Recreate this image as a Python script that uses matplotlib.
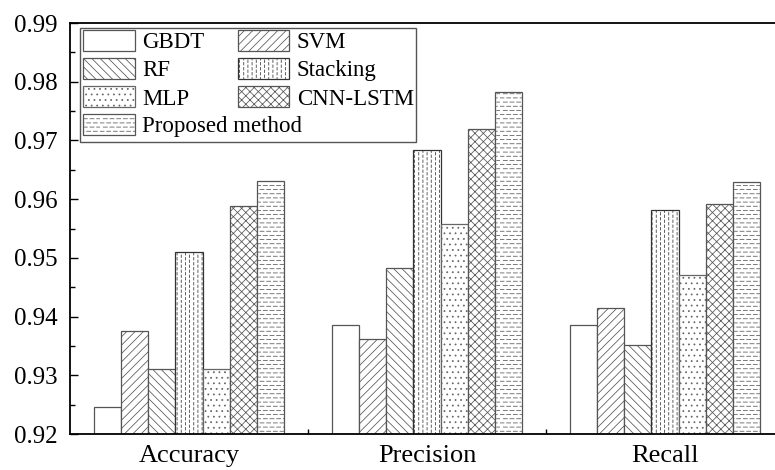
import numpy as np
import matplotlib
matplotlib.use("Agg")
import matplotlib.pyplot as plt
import matplotlib.hatch as mhatch
from matplotlib.path import Path
from matplotlib.patches import Rectangle

# ---------------- data ----------------
categories = ['Accuracy', 'Precision', 'Recall']
methods = ['GBDT', 'SVM', 'RF', 'Stacking', 'MLP', 'CNN-LSTM', 'Proposed method']
gbdt = [0.9246, 0.9386, 0.9386]
svm = [0.9376, 0.9361, 0.9414]
rf = [0.9310, 0.9483, 0.9351]
stacking = [0.9510, 0.9683, 0.9582]
mlp = [0.9310, 0.9558, 0.9471]
cnn_lstm = [0.9589, 0.9719, 0.9591]
proposed = [0.9631, 0.9783, 0.9630]
series = [gbdt, svm, rf, stacking, mlp, cnn_lstm, proposed]
yticks = [0.92, 0.93, 0.94, 0.95, 0.96, 0.97, 0.98, 0.99]


# ---------------- custom dashed hatches ----------------
class HDashHatch(mhatch.HatchPatternBase):
    def __init__(self, hatch, density):
        self.num_lines = int(hatch.count('-') * density)
        self.ndash = 15
        self.num_vertices = self.num_lines * self.ndash * 2

    def set_vertices_and_codes(self, vertices, codes):
        if self.num_lines == 0:
            return
        step = 1.0 / self.num_lines
        per = 1.0 / self.ndash
        k = 0
        for i in range(self.num_lines):
            y = i * step + step / 2
            off = per / 2 if i % 2 else 0.0
            for j in range(self.ndash):
                x0 = j * per + off
                vertices[k] = (x0, y)
                vertices[k + 1] = (x0 + per * 0.6, y)
                codes[k] = Path.MOVETO
                codes[k + 1] = Path.LINETO
                k += 2


class VDashHatch(mhatch.HatchPatternBase):
    def __init__(self, hatch, density):
        self.num_lines = int(hatch.count('|') * density)
        self.ndash = 20
        self.num_vertices = self.num_lines * self.ndash * 2

    def set_vertices_and_codes(self, vertices, codes):
        if self.num_lines == 0:
            return
        step = 1.0 / self.num_lines
        per = 1.0 / self.ndash
        k = 0
        for i in range(self.num_lines):
            x = i * step + step / 2
            off = per / 2 if i % 2 else 0.0
            for j in range(self.ndash):
                y0 = j * per + off
                vertices[k] = (x, y0)
                vertices[k + 1] = (x, y0 + per * 0.5)
                codes[k] = Path.MOVETO
                codes[k + 1] = Path.LINETO
                k += 2


for idx, ht in enumerate(mhatch._hatch_types):
    if ht is mhatch.HorizontalHatch:
        mhatch._hatch_types[idx] = HDashHatch
    elif ht is mhatch.VerticalHatch:
        mhatch._hatch_types[idx] = VDashHatch

plt.rcParams['font.family'] = ['Liberation Serif', 'DejaVu Serif']
plt.rcParams['hatch.linewidth'] = 0.55

hatches = ['', '////', '\\\\\\\\', '||||', '...', 'xxxx', '----']
edgecols = ['#555555', '#555555', '#555555', '#333333', '#666666', '#555555', '#555555']

fig = plt.figure(figsize=(7.75, 4.70), dpi=100)
W, H = 775.0, 470.0
ax_left, ax_right, ax_top, ax_bottom = 70, 784, 23, 434
ax = fig.add_axes([ax_left / W, 1 - ax_bottom / H, (ax_right - ax_left) / W, (ax_bottom - ax_top) / H])

x = np.arange(len(categories))
n = len(methods)
bw = 0.8 / n
containers = []
for i, (name, vals) in enumerate(zip(methods, series)):
    c = ax.bar(x + (i - (n - 1) / 2) * bw, vals, width=bw, color='white',
               edgecolor=edgecols[i], hatch=hatches[i], linewidth=0.9,
               label=name, zorder=2)
    containers.append(c)

ax.set_xlim(-0.5, 2.5)
ax.set_ylim(0.92, 0.99)
ax.set_yticks(yticks)
ax.set_yticklabels([f'{v:.2f}' for v in yticks])
ax.set_yticks(np.arange(0.925, 0.99, 0.01), minor=True)
ax.set_xticks(x)
ax.set_xticklabels(categories)
ax.set_xticks([0.5, 1.5], minor=True)

ax.tick_params(axis='y', which='major', direction='in', length=6, width=1.0,
               labelsize=18, pad=9)
ax.tick_params(axis='y', which='minor', direction='in', length=3.5, width=1.0)
ax.tick_params(axis='x', which='major', direction='in', length=6, width=1.0,
               labelsize=19, pad=8)
ax.tick_params(axis='x', which='minor', direction='in', length=3.5, width=1.0)
for s in ['left', 'bottom', 'top']:
    ax.spines[s].set_linewidth(1.3)
ax.spines['right'].set_visible(False)

# ---------------- legend ----------------
fs = 16.5
leg_kw = dict(fontsize=fs, frameon=False, borderpad=0, borderaxespad=0,
              handlelength=2.25, handleheight=1.05, handletextpad=0.33,
              labelspacing=0.2, columnspacing=1.45,
              loc='upper left', bbox_transform=fig.transFigure)
order = [0, 2, 4, 1, 3, 5]
legA = ax.legend([containers[i] for i in order], [methods[i] for i in order],
                 ncol=2, bbox_to_anchor=(83 / W, 1 - 30 / H), **leg_kw)
legA.set_zorder(6)
ax.add_artist(legA)
legB = ax.legend([containers[6]], [methods[6]], ncol=1,
                 bbox_to_anchor=(83 / W, 1 - 114 / H), **leg_kw)
legB.set_zorder(6)
frame = Rectangle((80 / W, 1 - 142 / H), (416 - 80) / W, (142 - 28) / H,
                  transform=fig.transFigure, facecolor='white',
                  edgecolor='#555555', linewidth=1.0, zorder=5)
ax.add_artist(frame)

fig.savefig('out.png', dpi=100)
